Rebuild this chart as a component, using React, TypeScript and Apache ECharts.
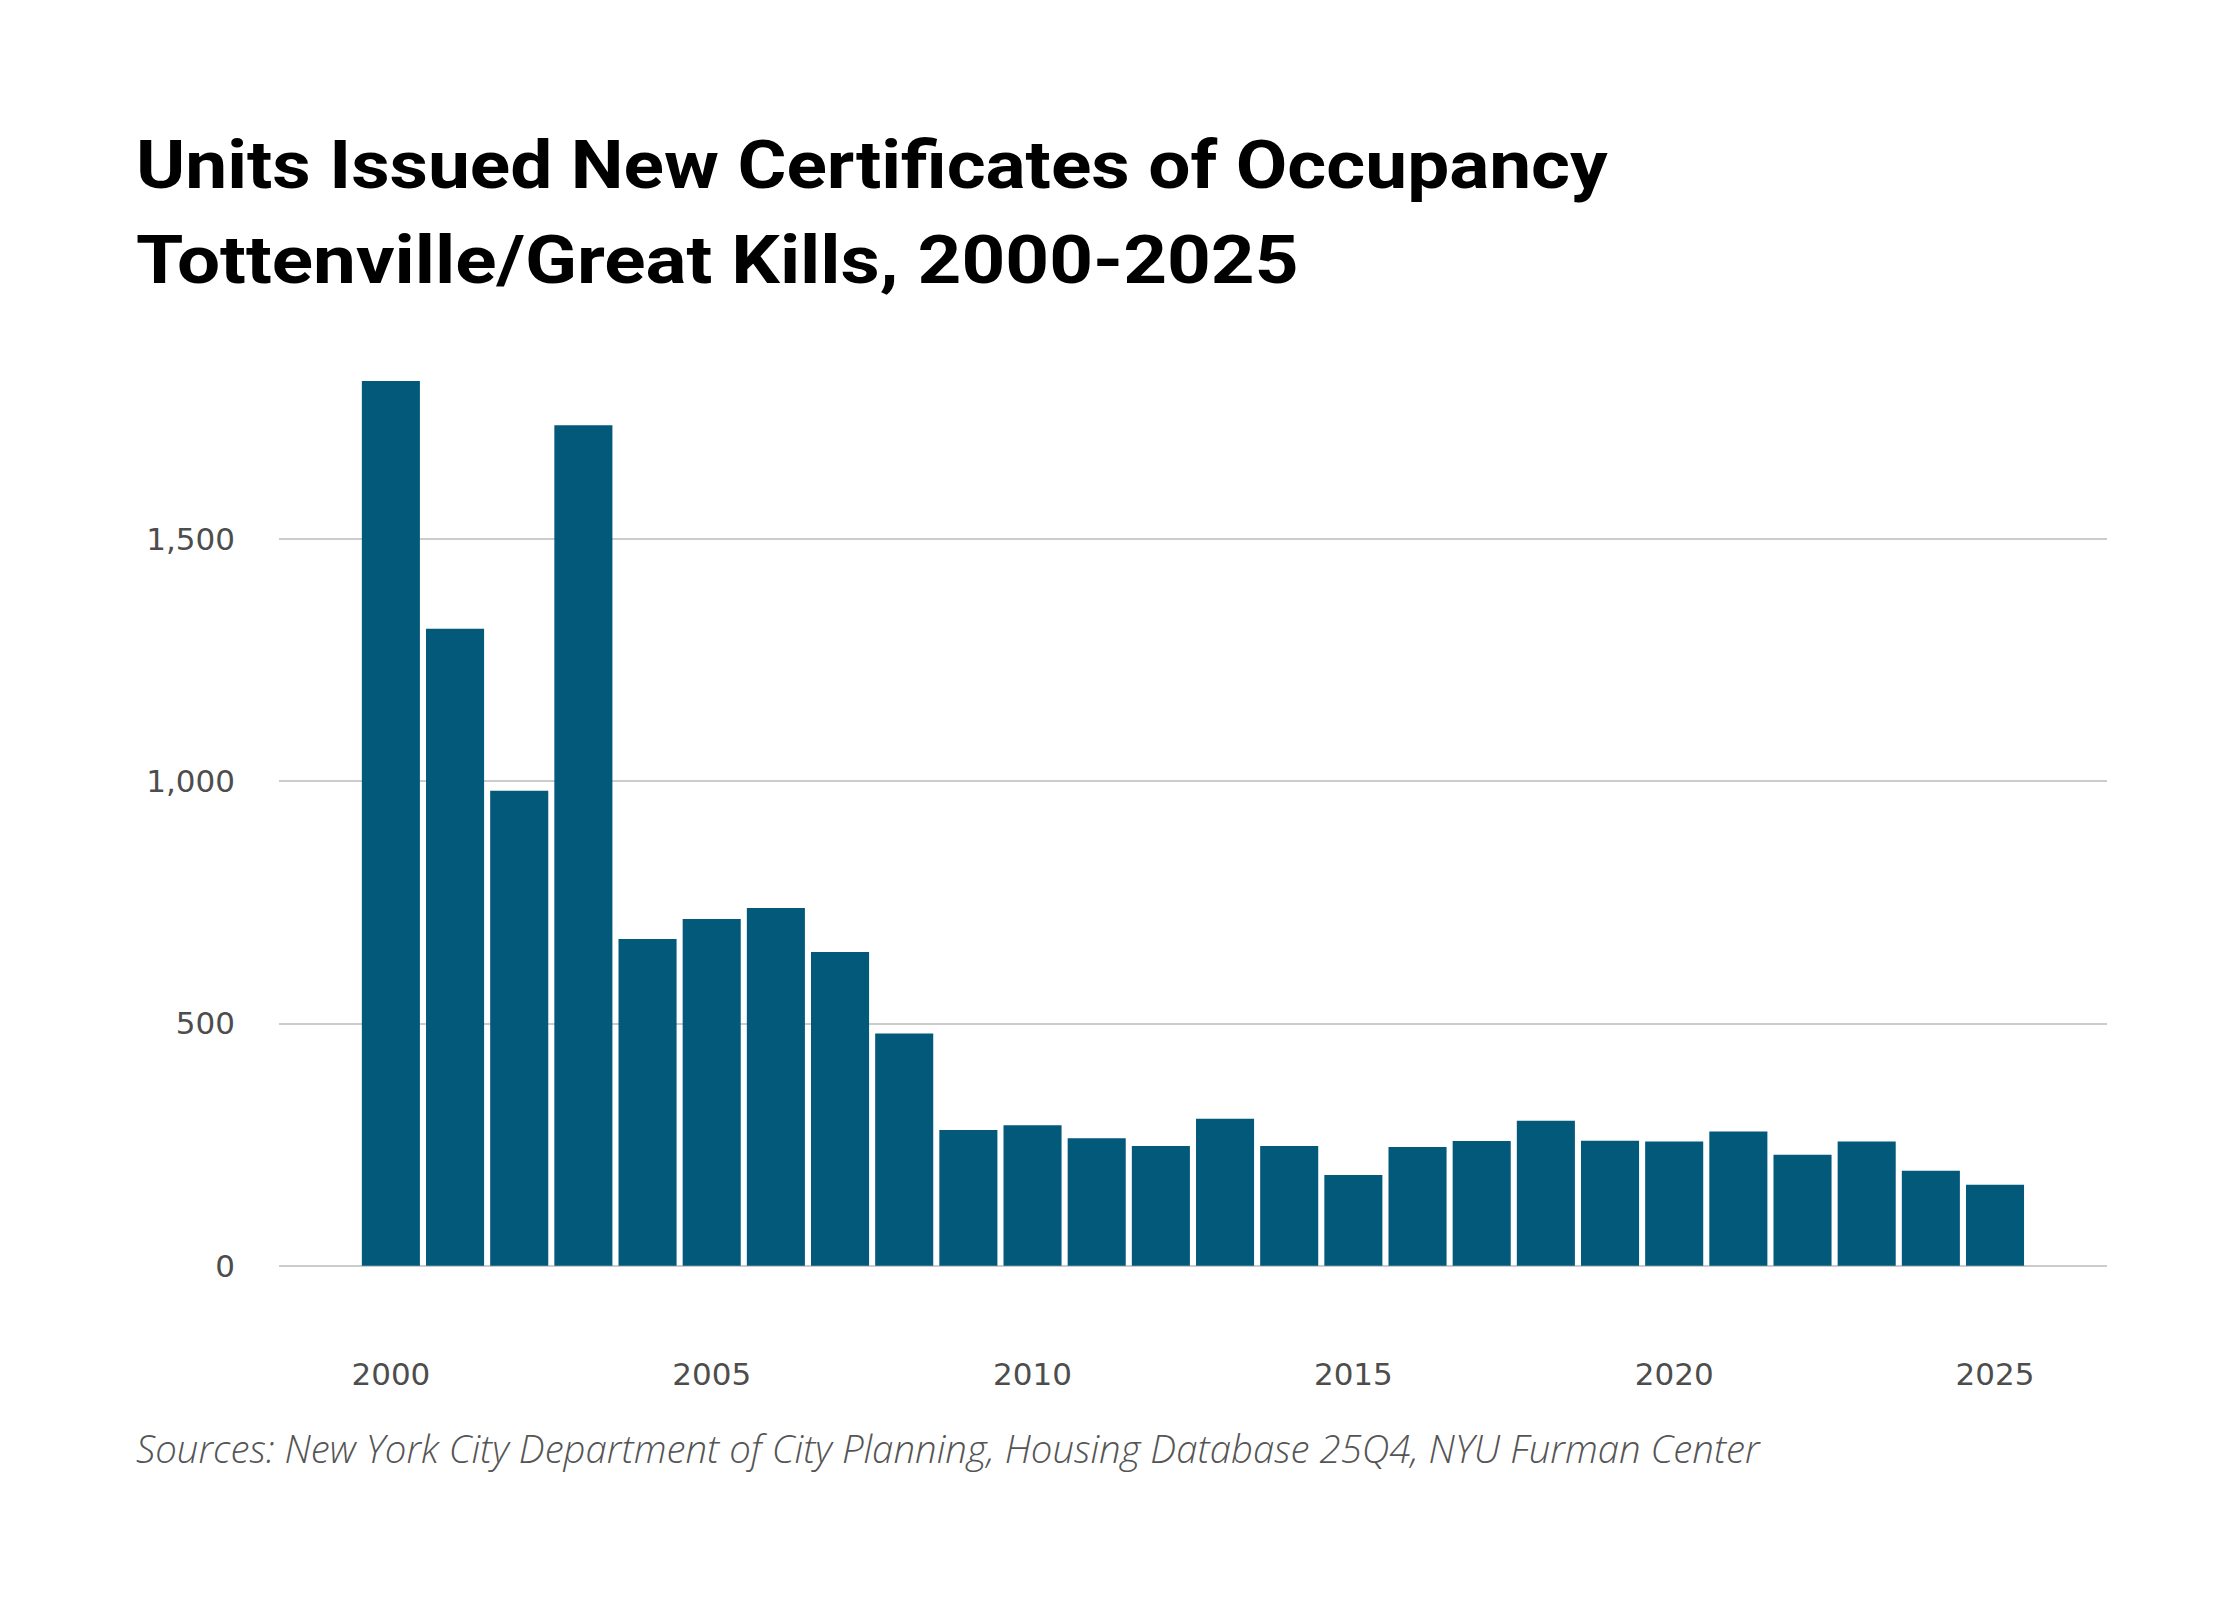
import React, { useEffect, useRef } from "react";
import * as echarts from "echarts";

const years: string[] = [
  "2000", "2001", "2002", "2003", "2004", "2005", "2006", "2007", "2008", "2009",
  "2010", "2011", "2012", "2013", "2014", "2015", "2016", "2017", "2018", "2019",
  "2020", "2021", "2022", "2023", "2024", "2025",
];
const units: number[] = [
  1825, 1314, 980, 1734, 674, 715, 738, 647, 479, 280,
  290, 263, 247, 303, 247, 187, 245, 257, 299, 258,
  256, 277, 229, 256, 196, 167,
];
const titleLines: string[] = [
  "Units Issued New Certificates of Occupancy",
  "Tottenville/Great Kills, 2000-2025",
];
const sourceText =
  "Sources: New York City Department of City Planning, Housing Database 25Q4, NYU Furman Center";

const BAR = "#03597a";
const GRID = "#cccccc";
const LABEL = "#4d4d4d";

export default function App() {
  const ref = useRef<HTMLDivElement>(null);
  useEffect(() => {
    document.body.style.margin = "0";
    if (!ref.current) return;
    const chart = echarts.init(ref.current, undefined, { renderer: "svg" });
    const W = 2240;
    const H = 1600;
    const zeroY = 1265.7;
    const pxPerUnit = (1265.7 - 538.6) / 1500;
    chart.setOption({
      animation: false,
      backgroundColor: "#ffffff",
      grid: [
        { left: 279, right: W - 2107, top: zeroY - 1500 * pxPerUnit, bottom: H - zeroY },
        { left: 358.8, right: W - 2027.1, top: zeroY - 2000 * pxPerUnit, bottom: H - zeroY },
      ],
      xAxis: [
        { gridIndex: 0, type: "value", show: false, min: 0, max: 1 },
        {
          gridIndex: 1,
          type: "category",
          data: years,
          axisLine: { show: false },
          axisTick: { show: false },
          axisLabel: {
            interval: 4,
            margin: 93,
            color: LABEL,
            fontFamily: "DejaVu Sans",
            fontSize: 31,
          },
        },
      ],
      yAxis: [
        {
          gridIndex: 0,
          type: "value",
          min: 0,
          max: 1500,
          interval: 500,
          axisLine: { show: false },
          axisTick: { show: false },
          splitLine: { show: true, lineStyle: { color: GRID, width: 2 } },
          axisLabel: {
            margin: 44,
            color: LABEL,
            fontFamily: "DejaVu Sans",
            fontSize: 31,
            formatter: (v: number) => v.toLocaleString("en-US"),
          },
        },
        { gridIndex: 1, type: "value", min: 0, max: 2000, show: false, splitLine: { show: false } },
      ],
      series: [
        {
          type: "bar",
          xAxisIndex: 1,
          yAxisIndex: 1,
          data: units,
          barCategoryGap: "9.5%",
          itemStyle: { color: BAR },
          silent: true,
        },
      ],
      graphic: [
        {
          type: "text",
          left: 136,
          top: 131,
          scaleX: 1.116,
          style: {
            text: titleLines[0],
            fill: "#000000",
            font: "700 67px Roboto",
          },
        },
        {
          type: "text",
          left: 136,
          top: 227,
          scaleX: 1.141,
          style: {
            text: titleLines[1],
            fill: "#000000",
            font: "700 67px Roboto",
          },
        },
        {
          type: "text",
          left: 136,
          top: 1429,
          style: {
            text: sourceText,
            fill: "#555555",
            font: "italic 300 38.4px 'Open Sans'",
          },
        },
      ],
    });
    return () => chart.dispose();
  }, []);
  return <div ref={ref} style={{ width: 2240, height: 1600 }} />;
}
